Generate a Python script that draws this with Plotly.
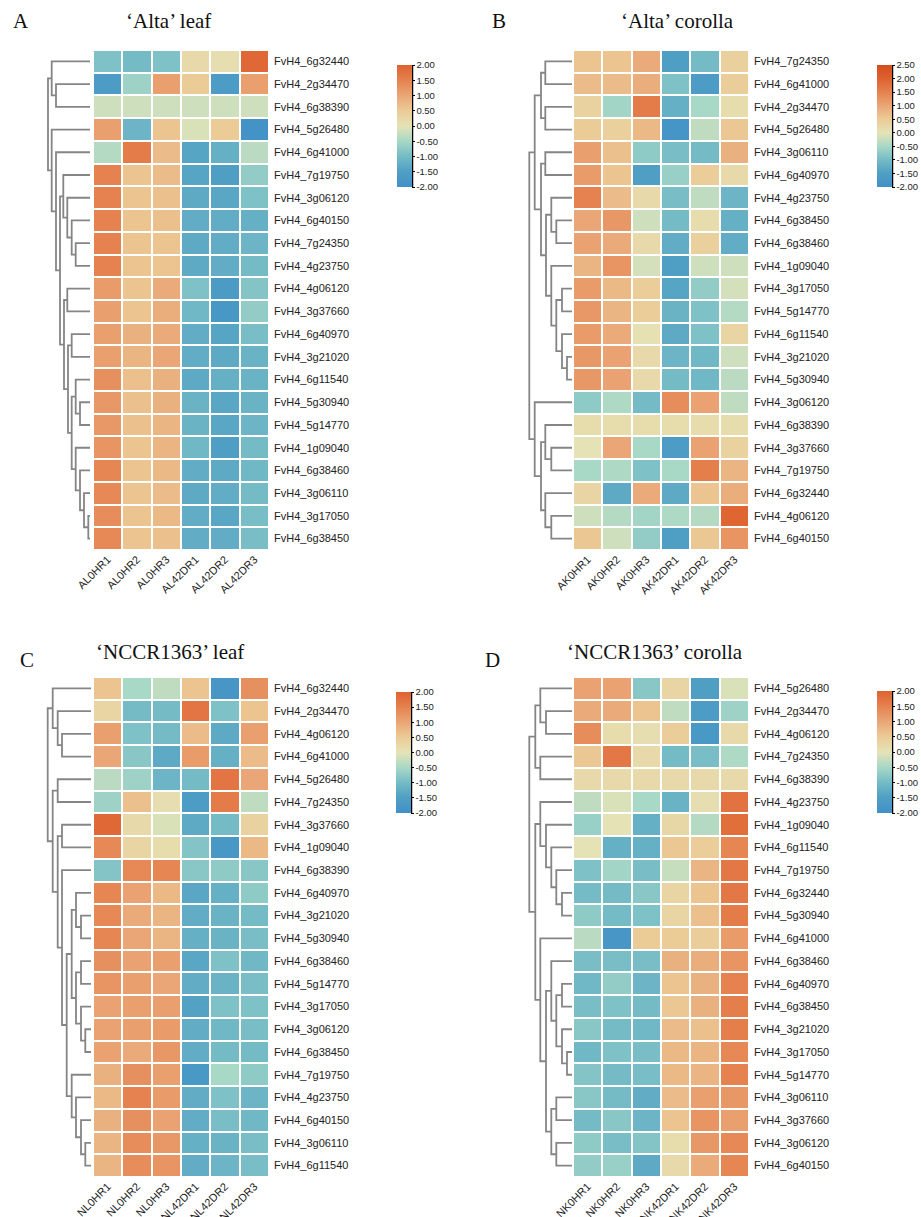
import plotly.graph_objects as go

PAGE_W, PAGE_H = 921, 1217
W, H = PAGE_W, PAGE_H

# ---------------- data ----------------
genes_A = ["FvH4_6g32440","FvH4_2g34470","FvH4_6g38390","FvH4_5g26480","FvH4_6g41000","FvH4_7g19750",
           "FvH4_3g06120","FvH4_6g40150","FvH4_7g24350","FvH4_4g23750","FvH4_4g06120","FvH4_3g37660",
           "FvH4_6g40970","FvH4_3g21020","FvH4_6g11540","FvH4_5g30940","FvH4_5g14770","FvH4_1g09040",
           "FvH4_6g38460","FvH4_3g06110","FvH4_3g17050","FvH4_6g38450"]
genes_B = ["FvH4_7g24350","FvH4_6g41000","FvH4_2g34470","FvH4_5g26480","FvH4_3g06110","FvH4_6g40970",
           "FvH4_4g23750","FvH4_6g38450","FvH4_6g38460","FvH4_1g09040","FvH4_3g17050","FvH4_5g14770",
           "FvH4_6g11540","FvH4_3g21020","FvH4_5g30940","FvH4_3g06120","FvH4_6g38390","FvH4_3g37660",
           "FvH4_7g19750","FvH4_6g32440","FvH4_4g06120","FvH4_6g40150"]
genes_C = ["FvH4_6g32440","FvH4_2g34470","FvH4_4g06120","FvH4_6g41000","FvH4_5g26480","FvH4_7g24350",
           "FvH4_3g37660","FvH4_1g09040","FvH4_6g38390","FvH4_6g40970","FvH4_3g21020","FvH4_5g30940",
           "FvH4_6g38460","FvH4_5g14770","FvH4_3g17050","FvH4_3g06120","FvH4_6g38450","FvH4_7g19750",
           "FvH4_4g23750","FvH4_6g40150","FvH4_3g06110","FvH4_6g11540"]
genes_D = ["FvH4_5g26480","FvH4_2g34470","FvH4_4g06120","FvH4_7g24350","FvH4_6g38390","FvH4_4g23750",
           "FvH4_1g09040","FvH4_6g11540","FvH4_7g19750","FvH4_6g32440","FvH4_5g30940","FvH4_6g41000",
           "FvH4_6g38460","FvH4_6g40970","FvH4_6g38450","FvH4_3g21020","FvH4_3g17050","FvH4_5g14770",
           "FvH4_3g06110","FvH4_3g37660","FvH4_3g06120","FvH4_6g40150"]

samples_A = ["AL0HR1","AL0HR2","AL0HR3","AL42DR1","AL42DR2","AL42DR3"]
samples_B = ["AK0HR1","AK0HR2","AK0HR3","AK42DR1","AK42DR2","AK42DR3"]
samples_C = ["NL0HR1","NL0HR2","NL0HR3","NL42DR1","NL42DR2","NL42DR3"]
samples_D = ["NK0HR1","NK0HR2","NK0HR3","NK42DR1","NK42DR2","NK42DR3"]

z_A = [
    [-0.9,-1.0,-0.9,0.2,0.1,1.9],
    [-1.6,-0.6,1.1,0.5,-1.6,1.1],
    [-0.2,-0.2,-0.2,-0.2,-0.2,-0.2],
    [1.1,-1.1,0.6,-0.1,0.5,-1.9],
    [-0.4,1.6,0.7,-1.4,-1.2,-0.35],
    [1.5,0.6,0.7,-1.4,-1.5,-0.7],
    [1.5,0.6,0.65,-1.3,-1.35,-0.9],
    [1.5,0.6,0.65,-1.25,-1.25,-1.2],
    [1.5,0.6,0.6,-1.3,-1.25,-1.1],
    [1.5,0.6,0.6,-1.3,-1.25,-1.0],
    [1.15,0.6,0.95,-0.9,-1.65,-0.85],
    [1.1,0.6,0.9,-1.05,-1.75,-0.7],
    [1.1,0.85,0.95,-1.25,-1.4,-0.95],
    [1.1,0.8,1.0,-1.25,-1.3,-1.15],
    [1.3,0.65,0.85,-1.3,-1.2,-1.15],
    [1.2,0.65,0.85,-1.15,-1.35,-1.15],
    [1.2,0.65,0.8,-1.15,-1.35,-1.1],
    [1.25,0.6,0.8,-1.05,-1.5,-1.0],
    [1.45,0.6,0.75,-1.25,-1.3,-1.05],
    [1.4,0.6,0.7,-1.3,-1.25,-1.0],
    [1.35,0.6,0.75,-1.25,-1.35,-0.95],
    [1.4,0.6,0.65,-1.25,-1.25,-0.95],
]
z_B = [
    [0.6,0.6,0.95,-1.5,-1.0,0.4],
    [0.7,0.7,0.9,-0.9,-1.6,0.45],
    [0.35,-0.55,1.6,-1.2,-0.5,0.15],
    [0.5,0.4,0.75,-1.85,-0.3,0.55],
    [1.1,0.65,-0.75,-0.95,-1.0,0.85],
    [1.15,0.6,-1.5,-0.65,0.45,0.2],
    [1.5,0.7,0.2,-0.95,-0.3,-1.1],
    [1.0,1.2,-0.2,-1.0,0.15,-1.2],
    [1.05,0.95,0.2,-1.25,0.4,-1.25],
    [0.8,1.25,-0.15,-1.5,-0.2,-0.2],
    [1.15,0.75,0.45,-1.4,-0.7,-0.15],
    [1.2,0.8,0.45,-1.15,-0.9,-0.4],
    [1.15,0.95,0.05,-1.3,-0.9,0.3],
    [1.2,1.05,0.2,-1.1,-1.05,-0.2],
    [1.2,1.05,0.2,-1.0,-1.05,-0.35],
    [-0.75,-0.45,-1.0,1.35,1.05,-0.3],
    [0.15,0.15,0.15,0.15,0.15,0.15],
    [0.0,1.0,-0.5,-1.6,1.05,0.35],
    [-0.5,-0.45,-0.9,-0.5,1.55,0.8],
    [0.3,-1.3,0.95,-1.3,0.6,0.9],
    [-0.2,-0.4,-0.55,-0.45,-0.4,1.95],
    [0.55,-0.2,-0.7,-1.5,0.55,1.25],
]
z_C = [
    [0.6,-0.5,-0.3,0.6,-1.8,1.3],
    [0.3,-1.0,-1.0,1.7,-0.9,0.6],
    [1.1,-0.9,-1.0,0.7,-1.3,1.1],
    [1.0,-0.8,-1.3,1.15,-1.2,0.7],
    [-0.35,-0.6,-1.1,-1.0,1.7,1.0],
    [-0.6,0.65,0.1,-1.6,1.6,-0.3],
    [1.9,0.2,-0.1,-1.3,-1.0,0.35],
    [1.4,0.3,0.15,-0.85,-1.75,0.75],
    [-0.85,1.4,1.45,-0.8,-0.75,-0.8],
    [1.45,1.05,0.75,-1.35,-1.2,-0.75],
    [1.4,0.95,0.8,-1.25,-1.15,-1.0],
    [1.45,1.0,0.8,-1.2,-1.15,-0.95],
    [1.3,1.05,1.1,-1.35,-0.9,-1.05],
    [1.25,1.1,1.0,-1.25,-1.15,-0.95],
    [1.05,1.1,1.1,-1.45,-0.9,-0.9],
    [1.05,1.1,1.15,-1.25,-1.05,-0.95],
    [1.05,0.95,1.2,-1.25,-1.0,-1.0],
    [0.85,1.3,1.1,-1.7,-0.5,-0.75],
    [0.75,1.5,1.15,-1.25,-0.9,-1.1],
    [0.85,1.3,1.05,-1.25,-0.95,-1.05],
    [0.8,1.35,1.2,-1.2,-1.15,-0.95],
    [0.8,1.35,1.25,-1.25,-1.1,-0.95],
]
z_D = [
    [1.05,1.05,-0.8,0.3,-1.5,-0.1],
    [0.95,0.95,0.6,-0.3,-1.6,-0.6],
    [1.35,0.15,0.1,0.45,-1.7,0.2],
    [0.55,1.65,0.2,-1.0,-0.95,-0.45],
    [0.2,0.2,0.2,0.2,0.2,0.2],
    [-0.3,-0.1,-0.5,-1.15,0.1,1.75],
    [-0.65,0.0,-1.2,0.25,-0.4,1.8],
    [0.0,-1.2,-1.2,0.55,0.45,1.45],
    [-0.9,-0.55,-0.95,-0.25,0.8,1.65],
    [-1.0,-1.0,-0.8,0.3,0.6,1.65],
    [-0.75,-1.0,-0.9,0.3,0.65,1.6],
    [-0.35,-1.8,0.5,0.5,0.45,1.15],
    [-0.95,-0.95,-0.95,0.85,0.9,1.25],
    [-1.05,-0.7,-1.1,0.6,0.85,1.5],
    [-0.95,-0.9,-1.0,0.55,0.85,1.55],
    [-0.8,-1.0,-1.05,0.7,0.65,1.55],
    [-1.05,-0.9,-0.95,0.75,0.8,1.4],
    [-0.85,-1.0,-0.95,0.75,0.8,1.5],
    [-0.8,-1.0,-1.25,0.7,1.1,1.2],
    [-1.0,-0.8,-1.1,0.6,1.25,1.1],
    [-0.75,-0.95,-0.85,0.15,1.2,1.4],
    [-0.7,-0.65,-1.3,0.2,0.95,1.45],
]

# hierarchical clustering merges: (child a, child b, height); leaves 0..21, merge k -> id 22+k
link_A = [(20,21,1.7),(19,22,6),(18,23,10),(17,24,14.3),(15,16,10),(14,26,14.3),(27,25,18.3),
          (12,13,18.3),(29,28,22),(10,11,22.7),(31,30,26),(8,9,14.3),(7,33,18.3),(6,34,22.7),
          (5,35,26.7),(36,32,30),(4,37,34),(3,38,38.3),(1,2,34),(0,40,38.3),(41,39,42)]
link_B = [(0,1,26.7),(2,3,26.7),(22,23,31),(4,5,26.7),(7,8,15.7),(6,26,20.7),(10,11,10),(13,14,5),
          (12,29,10),(28,30,15.7),(9,31,20.7),(27,32,26),(25,33,31),(24,34,37.3),(17,18,20.7),
          (16,36,26.7),(20,21,20.7),(19,38,26.7),(37,39,31),(15,40,37.3),(35,41,42.7)]
link_C = [(2,3,29),(1,22,33.3),(0,23,38.3),(4,5,33.3),(6,7,29),(10,11,10),(9,27,15),(12,13,10),
          (15,16,5.7),(14,30,10),(29,31,15),(28,32,19.3),(20,21,5.7),(19,34,10),(18,35,15),(17,36,19.3),
          (33,37,24.3),(8,38,29),(26,39,33.3),(25,40,38.3),(24,41,43.3)]
link_D = [(1,2,26),(0,22,31.7),(3,4,31.7),(23,24,36.7),(9,10,10),(8,26,15.7),(7,27,20.7),(6,28,26),
          (5,29,31.7),(13,14,10),(16,17,5),(15,32,10),(31,33,15.7),(12,34,20.7),(18,19,15.7),
          (20,21,15.7),(36,37,20.7),(35,38,26),(11,39,31.7),(30,40,36.7),(25,41,42.7)]

cb_ticks_A = [2.0,1.5,1.0,0.5,0.0,-0.5,-1.0,-1.5,-2.0]
cb_ticks_B = [2.5,2.0,1.5,1.0,0.5,0.0,-0.5,-1.0,-1.5,-2.0]

scale_values = [-2.0,-1.5,-1.0,-0.5,0.0,0.5,1.0,1.5,2.0,2.5]
scale_colors = ["#4190c8","#4f9fc4","#74bbc6","#a8d8c6","#e5e3b6","#ebcb96","#eaa676","#e5824f","#de6230","#d44d1c"]

titles = ["\u2018Alta\u2019 leaf", "\u2018Alta\u2019 corolla", "\u2018NCCR1363\u2019 leaf", "\u2018NCCR1363\u2019 corolla"]
letters = ["A", "B", "C", "D"]

# ---------------- layout geometry (page pixels) ----------------
panels = [
    dict(genes=genes_A, samples=samples_A, z=z_A, link=link_A, zmin=-2, zmax=2, ticks=cb_ticks_A,
         hx=(93, 269), hy=(50, 550), leaf_end=90, cb=(397, 65, 187), tpos=(168, 21), lpos=(21, 21)),
    dict(genes=genes_B, samples=samples_B, z=z_B, link=link_B, zmin=-2, zmax=2.5, ticks=cb_ticks_B,
         hx=(573, 749), hy=(50, 550), leaf_end=572, cb=(877, 65, 187), tpos=(677, 21), lpos=(499, 21)),
    dict(genes=genes_C, samples=samples_C, z=z_C, link=link_C, zmin=-2, zmax=2, ticks=cb_ticks_A,
         hx=(93, 269), hy=(677, 1177), leaf_end=91, cb=(396, 692, 813), tpos=(170, 652), lpos=(27, 660)),
    dict(genes=genes_D, samples=samples_D, z=z_D, link=link_D, zmin=-2, zmax=2, ticks=cb_ticks_A,
         hx=(573, 749), hy=(677, 1177), leaf_end=572, cb=(877, 691, 813), tpos=(655, 652), lpos=(492, 660)),
]

def px_x(v):
    return v / W

def px_y(v):
    return 1 - v / H

def colorscale(zmin, zmax):
    cs = []
    for v, c in zip(scale_values, scale_colors):
        if zmin - 1e-9 <= v <= zmax + 1e-9:
            cs.append([(v - zmin) / (zmax - zmin), c])
    return cs

def dendro_lines(link, n):
    pos = {i: (float(i), 0.0) for i in range(n)}
    xs, ys = [], []
    for k, (a, b, h) in enumerate(link):
        ya, ha = pos[a]
        yb, hb = pos[b]
        xs += [ha, h, h, hb, None]
        ys += [ya, ya, yb, yb, None]
        pos[n + k] = ((ya + yb) / 2, h)
    return xs, ys

SANS = "Liberation Sans, Arial, sans-serif"
SERIF = "Liberation Serif, Times New Roman, serif"

fig = go.Figure()
layout = dict(width=W, height=H, margin=dict(l=0, r=0, t=0, b=0, autoexpand=False),
              paper_bgcolor="white", plot_bgcolor="white", showlegend=False)
annotations = []
shapes = []

for i, p in enumerate(panels):
    n = len(p["genes"])
    hid = 2 * i + 1
    did = 2 * i + 2
    hx_name, hy_name = f"x{hid}", f"y{hid}"
    dx_name, dy_name = f"x{did}", f"y{did}"
    ydom = [px_y(p["hy"][1]), px_y(p["hy"][0])]
    cbx, cby0, cby1 = p["cb"]
    fig.add_trace(go.Heatmap(
        z=p["z"], x=list(range(6)), y=list(range(n)),
        zmin=p["zmin"], zmax=p["zmax"], colorscale=colorscale(p["zmin"], p["zmax"]),
        xgap=2, ygap=2, xaxis=hx_name, yaxis=hy_name,
        colorbar=dict(x=px_x(cbx), xanchor="left", y=px_y(cby0), yanchor="top",
                      len=cby1 - cby0, lenmode="pixels", thickness=15, thicknessmode="pixels",
                      xpad=0, ypad=0, outlinewidth=0,
                      tickvals=p["ticks"], ticktext=[f"{t:.2f}" for t in p["ticks"]],
                      ticks="outside", ticklen=3, tickwidth=1, tickcolor="black",
                      tickfont=dict(family=SANS, size=9.5, color="#222222")),
    ))
    xs, ys = dendro_lines(p["link"], n)
    fig.add_trace(go.Scatter(x=xs, y=ys, mode="lines", xaxis=dx_name, yaxis=dy_name,
                             line=dict(color="#858585", width=1.8), hoverinfo="skip"))
    layout[f"xaxis{hid}"] = dict(domain=[px_x(p["hx"][0]), px_x(p["hx"][1])], anchor=hy_name,
                                 range=[-0.5, 5.5], tickvals=list(range(6)), ticktext=p["samples"],
                                 tickangle=-45, showgrid=False, zeroline=False, showline=False, ticks="",
                                 tickfont=dict(family=SANS, size=11, color="#222222"), fixedrange=True)
    layout[f"yaxis{hid}"] = dict(domain=ydom, anchor=hx_name, range=[n - 0.5, -0.5], side="right",
                                 tickvals=list(range(n)), ticktext=p["genes"], showgrid=False,
                                 zeroline=False, showline=False, ticks="", ticklabelstandoff=4,
                                 tickfont=dict(family=SANS, size=11, color="#222222"), fixedrange=True)
    layout[f"xaxis{did}"] = dict(domain=[px_x(p["leaf_end"] - 46), px_x(p["leaf_end"])], anchor=dy_name,
                                 range=[46, 0], visible=False, fixedrange=True)
    layout[f"yaxis{did}"] = dict(domain=ydom, anchor=dx_name, range=[n - 0.5, -0.5],
                                 visible=False, fixedrange=True)
    # black axis line on colourbar
    shapes.append(dict(type="line", xref="paper", yref="paper",
                       x0=px_x(cbx + 15.5), x1=px_x(cbx + 15.5), y0=px_y(cby0), y1=px_y(cby1),
                       line=dict(color="black", width=1.5)))
    annotations.append(dict(text=titles[i], x=px_x(p["tpos"][0]), y=px_y(p["tpos"][1]),
                            xref="paper", yref="paper", xanchor="center", yanchor="middle",
                            showarrow=False, font=dict(family=SERIF, size=21, color="#111111")))
    annotations.append(dict(text=letters[i], x=px_x(p["lpos"][0]), y=px_y(p["lpos"][1]),
                            xref="paper", yref="paper", xanchor="center", yanchor="middle",
                            showarrow=False, font=dict(family=SERIF, size=21, color="#111111")))

layout["annotations"] = annotations
layout["shapes"] = shapes
fig.update_layout(**layout)
fig.write_html("out.html", config={"displayModeBar": False, "staticPlot": True},
               post_script="document.body.style.margin='0px';document.body.style.overflow='hidden';")
